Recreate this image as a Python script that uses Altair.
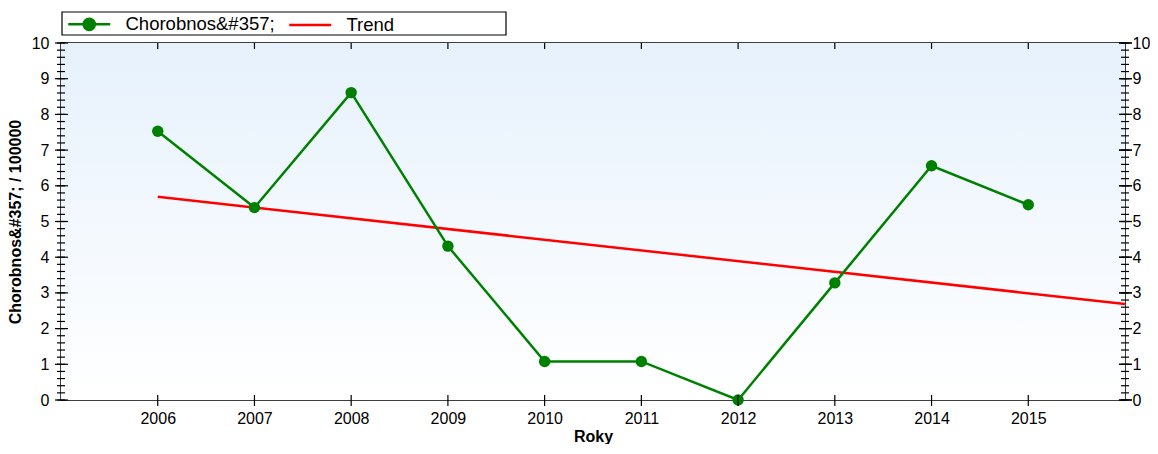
import altair as alt
import pandas as pd

# ---- data ----
years = [2006, 2007, 2008, 2009, 2010, 2011, 2012, 2013, 2014, 2015]
values = [7.53, 5.39, 8.61, 4.31, 1.08, 1.08, 0.0, 3.28, 6.56, 5.47]
trend_years = [2006, 2016]
trend_values = [5.69, 2.69]
series_names = ["Chorobnos&#357;", "Trend"]
series_colors = ["#008000", "#ff0000"]
x_title = "Roky"
y_title = "Chorobnos&#357; / 100000"
y_major = list(range(0, 11))
y_minor = [round(i * 0.2, 1) for i in range(51)]
x_domain = [2005, 2016]
y_domain = [0, 10]

W, H = 1064, 357
FONT = "Liberation Sans"

df = pd.DataFrame({"year": years, "value": values, "series": series_names[0]})
tdf = pd.DataFrame({"year": trend_years, "value": trend_values, "series": series_names[1]})
legdf = pd.DataFrame({"series": series_names})
xt = pd.DataFrame({"year": years})
ymaj = pd.DataFrame({"v": y_major})
ymin = pd.DataFrame({"v": y_minor})

xs = alt.Scale(domain=x_domain, nice=False, zero=False)
ys = alt.Scale(domain=y_domain, nice=False, zero=False)

x_axis = alt.Axis(values=years, format="d", title=x_title, ticks=False, tickSize=0,
                  labelPadding=10, domain=False, grid=False, labelFontSize=16,
                  labelFont=FONT, labelColor="black", titleFont=FONT, titleFontSize=16,
                  titleFontWeight="bold", titleColor="black", titlePadding=2)
left_axis = alt.Axis(orient="left", values=y_major, ticks=False, tickSize=0, labelPadding=12,
                     domain=False, grid=False, title=y_title, titleFont=FONT, titleFontSize=16,
                     titleFontWeight="bold", titleColor="black", titlePadding=8,
                     labelFont=FONT, labelFontSize=16, labelColor="black")
right_axis = alt.Axis(orient="right", values=y_major, ticks=False, tickSize=0, labelPadding=7,
                      domain=False, grid=False, title=None,
                      labelFont=FONT, labelFontSize=16, labelColor="black")

X = lambda f: alt.X(f, scale=xs, axis=x_axis)
Y = lambda f: alt.Y(f, scale=ys, axis=left_axis)

bg = alt.Chart(pd.DataFrame({"a": [0]})).mark_rect(
    fill=alt.LinearGradient(gradient="linear",
                            stops=[alt.GradientStop(color="#e6f1fc", offset=0),
                                   alt.GradientStop(color="#ffffff", offset=1)],
                            x1=0, x2=0, y1=0, y2=1)
).encode(x=alt.value(0), x2=alt.value(W), y=alt.value(0), y2=alt.value(H))

# legend frame (style only)
frame = alt.Chart(pd.DataFrame({"a": [0]})).mark_rect(
    fill="white", stroke="black", strokeWidth=1.2
).encode(x=alt.value(1), x2=alt.value(445), y=alt.value(-31), y2=alt.value(-8))

trend = alt.Chart(tdf).mark_line(color=series_colors[1], strokeWidth=2.5).encode(
    x=X("year:Q"), y=Y("value:Q"))

line = alt.Chart(df).mark_line(color=series_colors[0], strokeWidth=2.5).encode(
    x=X("year:Q"), y=Y("value:Q"))

pts = alt.Chart(df).mark_point(filled=True, color=series_colors[0], size=130, opacity=1,
                               shape="circle").encode(x=X("year:Q"), y=Y("value:Q"))

leg = alt.Legend(orient="none", legendX=2, legendY=-31, direction="horizontal", columns=2,
                 title=None, padding=3, labelFont=FONT, labelFontSize=18.5, labelColor="black",
                 symbolSize=196, symbolStrokeWidth=2.5, labelOffset=41, columnPadding=9)
shape_paths = ["M-1,0L5,0M1.2,0A0.8,0.8 0 1,1 2.8,0A0.8,0.8 0 1,1 1.2,0Z", "M-1,0L5,0"]
legend_layer = alt.Chart(legdf).transform_filter("false").mark_point(
    filled=True, opacity=1, strokeWidth=2.5).encode(
    fill=alt.Fill("series:N", scale=alt.Scale(domain=series_names, range=series_colors), legend=leg),
    stroke=alt.Stroke("series:N", scale=alt.Scale(domain=series_names, range=series_colors), legend=leg),
    shape=alt.Shape("series:N", scale=alt.Scale(domain=series_names, range=shape_paths), legend=leg))

xt_bottom = alt.Chart(xt).mark_rule(color="black", strokeWidth=1.2).encode(
    x=X("year:Q"), y=alt.value(H - 5), y2=alt.value(H + 6))
xt_top = alt.Chart(xt).mark_rule(color="black", strokeWidth=1.2).encode(
    x=X("year:Q"), y=alt.value(0), y2=alt.value(6))

def yrules(d, x1, x2, axis):
    return alt.Chart(d).mark_rule(color="black", strokeWidth=1.2).encode(
        y=alt.Y("v:Q", scale=ys, axis=axis), x=alt.value(x1), x2=alt.value(x2))

left_group = alt.layer(
    bg, frame, trend, line, pts, legend_layer, xt_bottom, xt_top,
    yrules(ymin, -4, 4, left_axis), yrules(ymin, W - 4, W + 4, left_axis),
    yrules(ymaj, W - 6, W + 7, left_axis), yrules(ymaj, -6, 7, left_axis),
)
right_group = yrules(ymaj, W - 6, W + 7, right_axis)

chart = alt.layer(left_group, right_group).resolve_scale(y="independent").properties(
    width=W, height=H,
    autosize=alt.AutoSizeParams(type="none"),
    padding={"left": 53, "top": 35, "right": 25, "bottom": 44},
).configure(font=FONT).configure_view(stroke="black", strokeWidth=1.5)

chart.save("out.html", embed_options={"renderer": "svg", "actions": False})
